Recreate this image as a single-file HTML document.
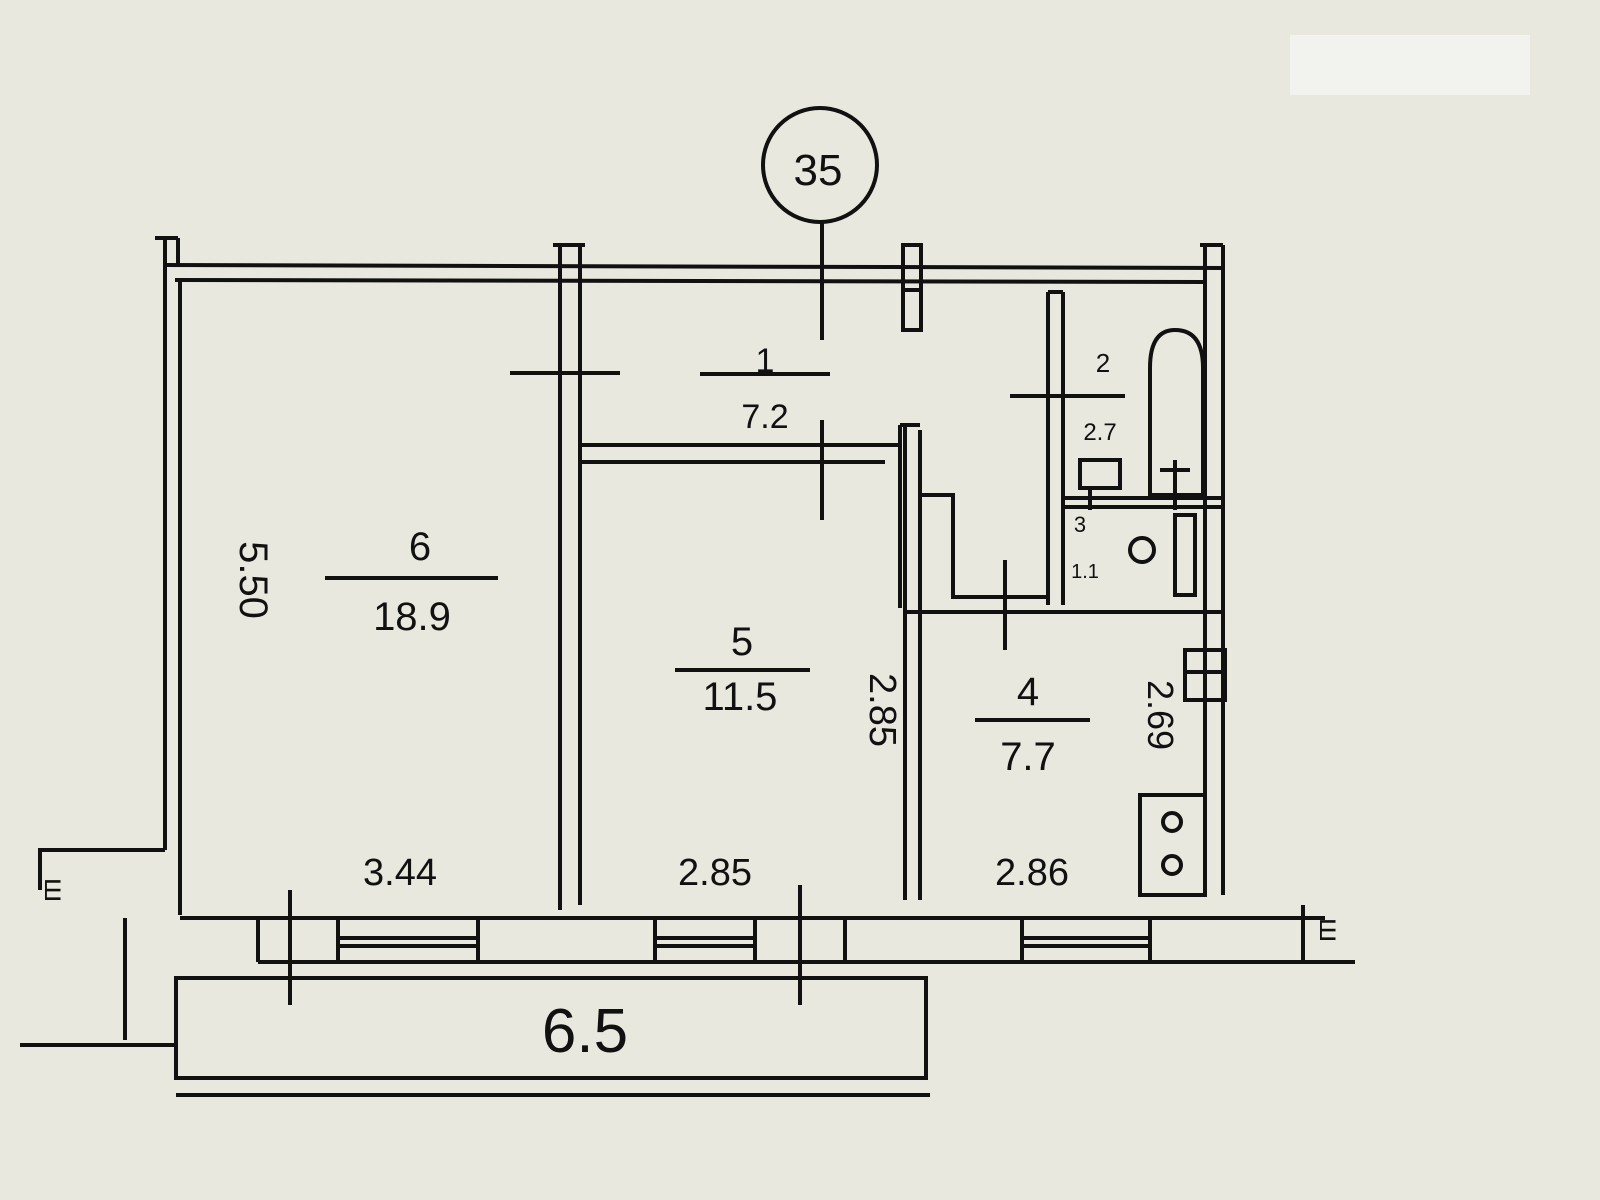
<!DOCTYPE html>
<html><head><meta charset="utf-8"><style>
html,body{margin:0;padding:0;background:#e9e8de;}
svg{display:block}
text{font-family:"Liberation Sans",sans-serif;fill:#111;font-weight:500}
</style></head><body>
<svg width="1600" height="1200" viewBox="0 0 1600 1200" xmlns="http://www.w3.org/2000/svg">
<rect width="1600" height="1200" fill="#e9e8de"/>
<rect x="1290" y="35" width="240" height="60" fill="#f2f2ee"/>
<g stroke="#111" stroke-width="4" fill="none">
<circle cx="820" cy="165" r="57"/>
<line x1="822" y1="222" x2="822" y2="340"/>
<line x1="165" y1="265" x2="1222" y2="268"/>
<line x1="175" y1="280" x2="1205" y2="282"/>
<line x1="165" y1="238" x2="165" y2="850"/>
<line x1="155" y1="238" x2="178" y2="238"/>
<line x1="178" y1="238" x2="178" y2="265"/>
<line x1="180" y1="280" x2="180" y2="915"/>
<line x1="1205" y1="245" x2="1205" y2="895"/>
<line x1="1223" y1="245" x2="1223" y2="895"/>
<line x1="1200" y1="245" x2="1223" y2="245"/>
<line x1="560" y1="245" x2="560" y2="910"/>
<line x1="580" y1="245" x2="580" y2="905"/>
<line x1="553" y1="245" x2="585" y2="245"/>
<line x1="510" y1="373" x2="620" y2="373"/>
<rect x="903" y="245" width="18" height="85"/>
<line x1="903" y1="290" x2="921" y2="290"/>
<line x1="580" y1="445" x2="900" y2="445"/>
<line x1="580" y1="462" x2="885" y2="462"/>
<line x1="822" y1="420" x2="822" y2="520"/>
<line x1="900" y1="425" x2="900" y2="608"/>
<line x1="905" y1="425" x2="905" y2="900"/>
<line x1="920" y1="430" x2="920" y2="900"/>
<line x1="900" y1="425" x2="920" y2="425"/>
<polyline points="920,495 953,495 953,597 1047,597"/>
<line x1="905" y1="612" x2="1223" y2="612"/>
<line x1="1005" y1="560" x2="1005" y2="650"/>
<line x1="1048" y1="292" x2="1048" y2="605"/>
<line x1="1063" y1="292" x2="1063" y2="605"/>
<line x1="1048" y1="292" x2="1063" y2="292"/>
<line x1="1010" y1="396" x2="1125" y2="396"/>
<path d="M1150,495 L1150,368 Q1150,330 1175,330 Q1203,330 1203,368 L1203,495 Z"/>
<rect x="1080" y="460" width="40" height="28"/>
<line x1="1063" y1="498" x2="1223" y2="498"/>
<line x1="1063" y1="507" x2="1223" y2="507"/>
<rect x="1175" y="515" width="20" height="80"/>
<circle cx="1142" cy="550" r="12"/>
<line x1="1175" y1="460" x2="1175" y2="510"/>
<line x1="1160" y1="470" x2="1190" y2="470"/>
<line x1="1090" y1="488" x2="1090" y2="510"/>
<rect x="1185" y="650" width="40" height="50"/>
<line x1="1185" y1="672" x2="1225" y2="672"/>
<rect x="1140" y="795" width="65" height="100"/>
<circle cx="1172" cy="822" r="9"/><circle cx="1172" cy="865" r="9"/>
<line x1="180" y1="918" x2="1325" y2="918"/>
<line x1="258" y1="962" x2="1355" y2="962"/>
<line x1="258" y1="918" x2="258" y2="962"/>
<line x1="290" y1="890" x2="290" y2="1005"/>
<line x1="800" y1="885" x2="800" y2="1005"/>
<line x1="845" y1="918" x2="845" y2="962"/>
<line x1="1303" y1="905" x2="1303" y2="962"/>
<rect x="338" y="918" width="140" height="44"/>
<line x1="338" y1="938" x2="478" y2="938"/><line x1="338" y1="946" x2="478" y2="946"/>
<rect x="655" y="918" width="100" height="44"/>
<line x1="655" y1="938" x2="755" y2="938"/><line x1="655" y1="946" x2="755" y2="946"/>
<rect x="1022" y="918" width="128" height="44"/>
<line x1="1022" y1="938" x2="1150" y2="938"/><line x1="1022" y1="946" x2="1150" y2="946"/>
<rect x="176" y="978" width="750" height="100"/>
<line x1="176" y1="1095" x2="930" y2="1095"/>
<polyline points="165,850 40,850 40,890"/>
<line x1="125" y1="918" x2="125" y2="1040"/>
<line x1="20" y1="1045" x2="176" y2="1045"/>
<line x1="325" y1="578" x2="498" y2="578"/>
<line x1="675" y1="670" x2="810" y2="670"/>
<line x1="700" y1="374" x2="830" y2="374"/>
<line x1="975" y1="720" x2="1090" y2="720"/>
</g>
<text x="818" y="185" font-size="44" text-anchor="middle">35</text>
<text x="765" y="372" font-size="34" text-anchor="middle">1</text>
<text x="765" y="428" font-size="34" text-anchor="middle">7.2</text>
<text x="1103" y="372" font-size="26" text-anchor="middle">2</text>
<text x="1100" y="440" font-size="24" text-anchor="middle">2.7</text>
<text x="1080" y="532" font-size="22" text-anchor="middle">3</text>
<text x="1085" y="578" font-size="20" text-anchor="middle">1.1</text>
<text x="420" y="560" font-size="40" text-anchor="middle">6</text>
<text x="412" y="630" font-size="40" text-anchor="middle">18.9</text>
<text x="742" y="655" font-size="40" text-anchor="middle">5</text>
<text x="740" y="710" font-size="40" text-anchor="middle">11.5</text>
<text x="1028" y="705" font-size="40" text-anchor="middle">4</text>
<text x="1028" y="770" font-size="40" text-anchor="middle">7.7</text>
<text x="400" y="885" font-size="38" text-anchor="middle">3.44</text>
<text x="715" y="885" font-size="38" text-anchor="middle">2.85</text>
<text x="1032" y="885" font-size="38" text-anchor="middle">2.86</text>
<text x="585" y="1052" font-size="62" text-anchor="middle">6.5</text>
<text transform="translate(240,580) rotate(90)" font-size="40" text-anchor="middle">5.50</text>
<text transform="translate(870,710) rotate(90)" font-size="38" text-anchor="middle">2.85</text>
<text transform="translate(1148,715) rotate(90)" font-size="36" text-anchor="middle">2.69</text>
<text transform="translate(45,890) rotate(90)" font-size="30" text-anchor="middle">ш</text>
<text transform="translate(1320,930) rotate(90)" font-size="30" text-anchor="middle">ш</text>
</svg>
</body></html>
